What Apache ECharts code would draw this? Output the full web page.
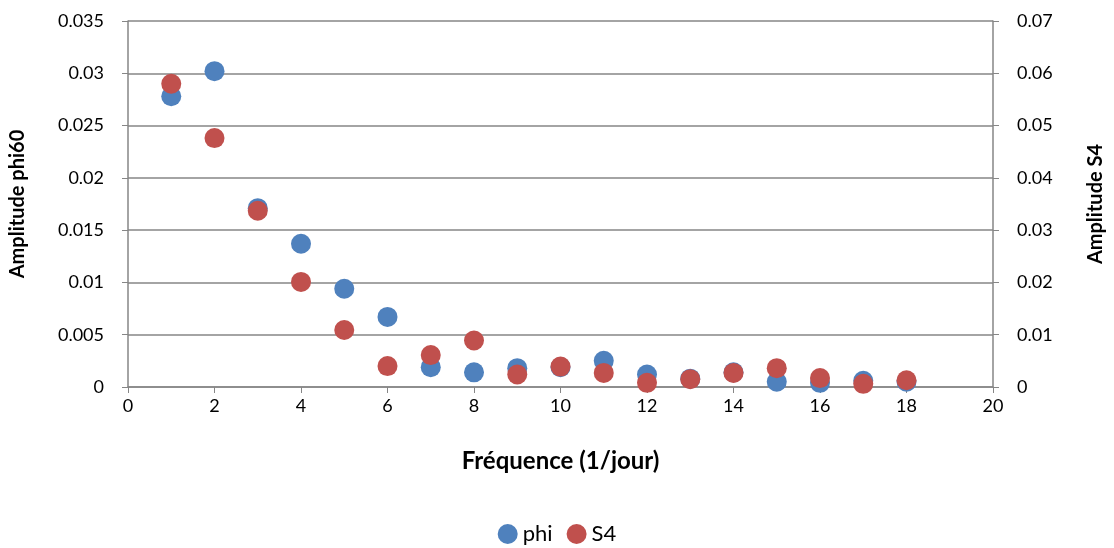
<!DOCTYPE html>
<html>
<head>
<meta charset="utf-8">
<script src="https://cdn.jsdelivr.net/npm/echarts@6/dist/echarts.min.js"></script>
<style>
  html, body { margin: 0; padding: 0; background: #fff; }
  #chart { width: 1114px; height: 548px; }
</style>
</head>
<body>
<div id="chart"></div>
<script>
// fréquences (1/jour)
var freq = [1, 2, 3, 4, 5, 6, 7, 8, 9, 10, 11, 12, 13, 14, 15, 16, 17, 18];
// amplitude phi60 (axe gauche)
var phiAmp = [0.0278, 0.0302, 0.0171, 0.0137, 0.0094, 0.0067, 0.0019, 0.0014, 0.0018, 0.0019,
              0.0025, 0.0012, 0.0008, 0.0014, 0.0005, 0.0004, 0.0006, 0.0005];
// amplitude S4 (axe droit)
var s4Amp = [0.0580, 0.0476, 0.0337, 0.0201, 0.0109, 0.0040, 0.0061, 0.0089, 0.0024, 0.0039,
             0.0027, 0.0008, 0.0015, 0.0027, 0.0036, 0.0017, 0.0006, 0.0013];

var font = 'Lato, "Open Sans", sans-serif';
var axisGrey = '#868686';

var chart = echarts.init(document.getElementById('chart'));
var option = {
  animation: false,
  textStyle: { fontFamily: font },
  grid: { left: 128, right: 121, top: 21, bottom: 161 },
  legend: {
    bottom: -2,
    left: 'center',
    icon: 'circle',
    itemWidth: 20,
    itemHeight: 20,
    itemGap: 14,
    textStyle: { fontSize: 22, color: '#000', fontFamily: font },
    data: ['phi', 'S4']
  },
  xAxis: {
    type: 'value',
    min: 0, max: 20, interval: 2,
    name: 'Fréquence (1/jour)',
    nameLocation: 'middle',
    nameGap: 62,
    nameTextStyle: { fontSize: 24, fontWeight: 'bold', color: '#000' },
    axisLine: { show: true, lineStyle: { color: axisGrey, width: 1.5 } },
    axisTick: { show: true, length: 6, lineStyle: { color: axisGrey } },
    axisLabel: { fontSize: 18, color: '#000', margin: 10 },
    splitLine: { show: false }
  },
  yAxis: [{
    type: 'value',
    position: 'left',
    min: 0, max: 0.035, interval: 0.005,
    name: 'Amplitude phi60',
    nameLocation: 'middle',
    nameGap: 100,
    nameTextStyle: { fontSize: 20, fontWeight: 'bold', color: '#000' },
    axisLine: { show: true, lineStyle: { color: axisGrey, width: 1.5 } },
    axisTick: { show: true, length: 6, lineStyle: { color: axisGrey } },
    axisLabel: { fontSize: 18, color: '#000', margin: 24 },
    splitLine: { show: true, lineStyle: { color: axisGrey, width: 1.5 } }
  }, {
    type: 'value',
    position: 'right',
    min: 0, max: 0.07, interval: 0.01,
    name: 'Amplitude S4',
    nameLocation: 'middle',
    nameGap: 93,
    nameRotate: 90,
    nameTextStyle: { fontSize: 20, fontWeight: 'bold', color: '#000' },
    axisLine: { show: true, lineStyle: { color: axisGrey, width: 1.5 } },
    axisTick: { show: true, length: 6, lineStyle: { color: axisGrey } },
    axisLabel: { fontSize: 18, color: '#000', margin: 24 },
    splitLine: { show: false }
  }],
  series: [{
    name: 'phi',
    type: 'scatter',
    yAxisIndex: 0,
    symbolSize: 20,
    itemStyle: { color: '#4F81BD', opacity: 1 },
    data: freq.map(function (f, i) { return [f, phiAmp[i]]; })
  }, {
    name: 'S4',
    type: 'scatter',
    yAxisIndex: 1,
    symbolSize: 20,
    itemStyle: { color: '#C0504D', opacity: 1 },
    data: freq.map(function (f, i) { return [f, s4Amp[i]]; })
  }]
};
chart.setOption(option);
</script>
</body>
</html>
